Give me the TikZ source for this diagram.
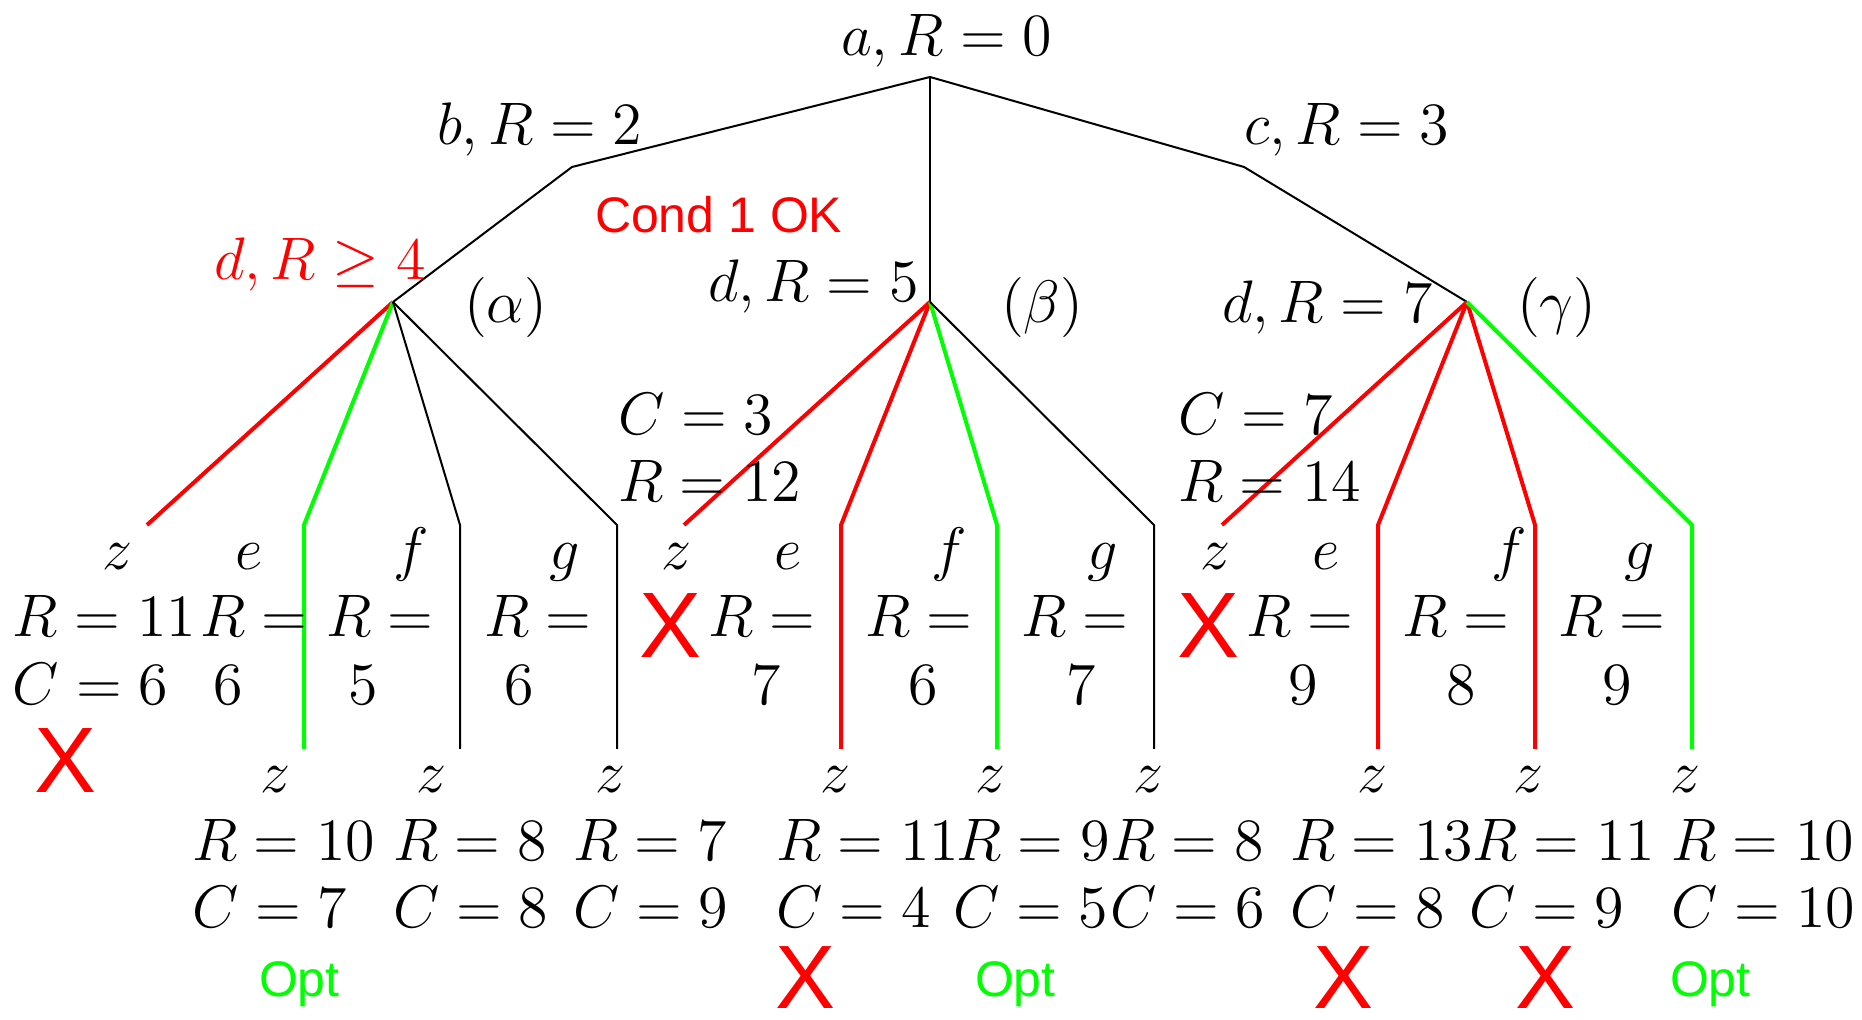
\documentclass[tikz,border=0pt]{standalone}
\usepackage{fontspec}
\setsansfont{Liberation Sans}
\begin{document}
\begin{tikzpicture}[x=0.2pt,y=-0.2pt,
  every node/.style={inner sep=0pt, outer sep=0pt},
  mt/.style={anchor=base west, font=\fontsize{12.3}{14}\selectfont},
  mc/.style={anchor=base, font=\fontsize{12.3}{14}\selectfont},
  redx/.style={anchor=center, text=red, font=\sffamily\fontsize{18.6}{20}\selectfont},
  opt/.style={anchor=base west, text=green, font=\sffamily\fontsize{10}{12}\selectfont},
  cond/.style={anchor=base west, text=red, font=\sffamily\fontsize{10}{12}\selectfont},
  blk/.style={draw=black, line width=0.4pt},
  redl/.style={draw=red, line width=0.8pt},
  grn/.style={draw=green, line width=0.8pt}]
\useasboundingbox (0,0) rectangle (1862,1020);

% tree vertices
\coordinate (a) at (930,77);
\coordinate (b) at (572,167);
\coordinate (c) at (1244,167);
\coordinate (da) at (393,302);
\coordinate (db) at (930,302);
\coordinate (dg) at (1467,302);
% leaf bends and ends
\coordinate (az) at (147,525);
\coordinate (ae) at (304,525); \coordinate (ae2) at (304,749);
\coordinate (af) at (460,525); \coordinate (af2) at (460,749);
\coordinate (ag) at (617,525); \coordinate (ag2) at (617,749);
\coordinate (bz) at (684,525);
\coordinate (be) at (841,525); \coordinate (be2) at (841,749);
\coordinate (bf) at (997,525); \coordinate (bf2) at (997,749);
\coordinate (bg) at (1154,525); \coordinate (bg2) at (1154,749);
\coordinate (gz) at (1222,525);
\coordinate (ge) at (1378,525); \coordinate (ge2) at (1378,749);
\coordinate (gf) at (1535,525); \coordinate (gf2) at (1535,749);
\coordinate (gg) at (1692,525); \coordinate (gg2) at (1692,749);

% edges
\draw[blk] (a) -- (b) -- (da);
\draw[blk] (a) -- (db);
\draw[blk] (a) -- (c) -- (dg);
\draw[redl] (da) -- (az);
\draw[grn] (da) -- (ae) -- (ae2);
\draw[blk] (da) -- (af) -- (af2);
\draw[blk] (da) -- (ag) -- (ag2);
\draw[redl] (db) -- (bz);
\draw[redl] (db) -- (be) -- (be2);
\draw[grn] (db) -- (bf) -- (bf2);
\draw[blk] (db) -- (bg) -- (bg2);
\draw[redl] (dg) -- (gz);
\draw[redl] (dg) -- (ge) -- (ge2);
\draw[redl] (dg) -- (gf) -- (gf2);
\draw[grn] (dg) -- (gg) -- (gg2);

% top labels
\node[mt] (la) at (841,56) {$a, R = 0$};
\node[mt] (lb) at (437,145) {$b, R = 2$};
\node[mt] (lc) at (1244,145) {$c, R = 3$};
\node[cond] (lcond) at (595,233) {Cond 1 OK};
\node[mt, text=red] (lda) at (214,280) {$d, R \geq 4$};
\node[mt] (lal) at (464,323) {$(\alpha)$};
\node[mt] (ldb) at (708,302) {$d, R = 5$};
\node[mt] (lbe) at (1001,323) {$(\beta)$};
\node[mt] (ldg) at (1222,323) {$d, R = 7$};
\node[mt] (lga) at (1517,323) {$(\gamma)$};
\node[mt] (lc3) at (618,435) {$C = 3$};
\node[mt] (lr12) at (618,502) {$R = 12$};
\node[mt] (lc7) at (1178,435) {$C = 7$};
\node[mt] (lr14) at (1178,502) {$R = 14$};

% first leaf row letters
\node[mc] (t1) at (117,570) {$z$};
\node[mc] (t2) at (249,570) {$e$};
\node[mc] (t3) at (411,570) {$f$};
\node[mc] (t4) at (565,570) {$g$};
\node[mc] (t5) at (676,570) {$z$};
\node[mc] (t6) at (788,570) {$e$};
\node[mc] (t7) at (949,570) {$f$};
\node[mc] (t8) at (1103,570) {$g$};
\node[mc] (t9) at (1215,570) {$z$};
\node[mc] (t10) at (1326,570) {$e$};
\node[mc] (t11) at (1509,570) {$f$};
\node[mc] (t12) at (1640,570) {$g$};

% first leaf row values
\node[mt] (r1) at (13,637) {$R = 11$};
\node[mt] (c1) at (13,705) {$C = 6$};
\node[mt] (r2) at (200,637) {$R =$};
\node[mt] (c2) at (213,705) {$6$};
\node[mt] (r3) at (326,637) {$R =$};
\node[mt] (c3) at (348,705) {$5$};
\node[mt] (r4) at (484,637) {$R =$};
\node[mt] (c4) at (504,705) {$6$};
\node[mt] (r6) at (708,637) {$R =$};
\node[mt] (c6) at (751,705) {$7$};
\node[mt] (r7) at (865,637) {$R =$};
\node[mt] (c7) at (908,705) {$6$};
\node[mt] (r8) at (1021,637) {$R =$};
\node[mt] (c8) at (1066,705) {$7$};
\node[mt] (r10) at (1246,637) {$R =$};
\node[mt] (c10) at (1288,705) {$9$};
\node[mt] (r11) at (1402,637) {$R =$};
\node[mt] (c11) at (1446,705) {$8$};
\node[mt] (r12) at (1558,637) {$R =$};
\node[mt] (c12) at (1602,705) {$9$};

% crosses at pruned z leaves
\node[redx] (x1) at (66,761) {X};
\node[redx] (x5) at (671,626) {X};
\node[redx] (x9) at (1208,626) {X};

% second leaf row
\node[mc] (z2) at (275,793) {$z$};
\node[mc] (z3) at (431,793) {$z$};
\node[mc] (z4) at (610,793) {$z$};
\node[mc] (z6) at (835,793) {$z$};
\node[mc] (z7) at (990,793) {$z$};
\node[mc] (z8) at (1148,793) {$z$};
\node[mc] (z10) at (1372,793) {$z$};
\node[mc] (z11) at (1528,793) {$z$};
\node[mc] (z12) at (1685,793) {$z$};

\node[mt] (rr2) at (192,861) {$R = 10$};
\node[mt] (cc2) at (192,928) {$C = 7$};
\node[mt] (rr3) at (393,861) {$R = 8$};
\node[mt] (cc3) at (393,928) {$C = 8$};
\node[mt] (rr4) at (573,861) {$R = 7$};
\node[mt] (cc4) at (573,928) {$C = 9$};
\node[mt] (rr6) at (776,861) {$R = 11$};
\node[mt] (cc6) at (776,928) {$C = 4$};
\node[mt] (rr7) at (956,861) {$R = 9$};
\node[mt] (cc7) at (953,928) {$C = 5$};
\node[mt] (rr8) at (1110,861) {$R = 8$};
\node[mt] (cc8) at (1110,928) {$C = 6$};
\node[mt] (rr10) at (1290,861) {$R = 13$};
\node[mt] (cc10) at (1290,928) {$C = 8$};
\node[mt] (rr11) at (1472,861) {$R = 11$};
\node[mt] (cc11) at (1469,928) {$C = 9$};
\node[mt] (rr12) at (1671,861) {$R = 10$};
\node[mt] (cc12) at (1671,928) {$C = 10$};

% bottom marks
\node[opt] (o2) at (259,997) {Opt};
\node[redx, font=\sffamily\fontsize{18}{20}\selectfont] (x6) at (805,978) {X};
\node[opt] (o7) at (975,997) {Opt};
\node[redx, font=\sffamily\fontsize{18}{20}\selectfont] (x10) at (1343,978) {X};
\node[redx, font=\sffamily\fontsize{18}{20}\selectfont] (x11) at (1545,978) {X};
\node[opt] (o12) at (1670,997) {Opt};
\end{tikzpicture}
\end{document}
